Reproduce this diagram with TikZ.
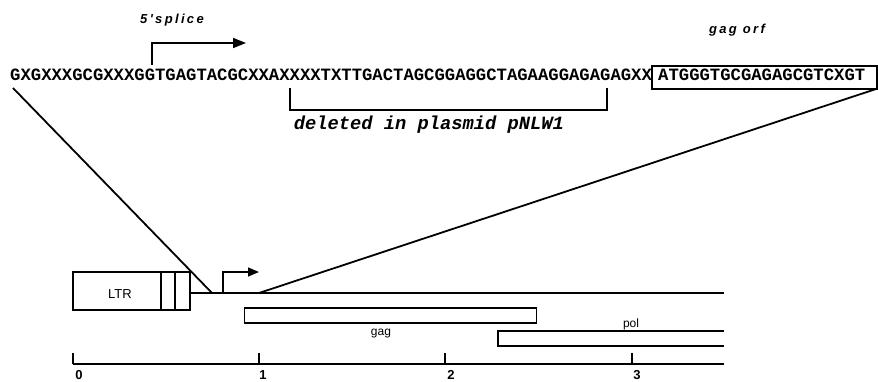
\documentclass[tikz,border=0pt]{standalone}
\usepackage{fontspec}
\setmainfont{Liberation Sans}
\newfontfamily\seqfont{Liberation Mono}
\newfontfamily\spacedsans{Liberation Sans}[LetterSpace=18]
\usetikzlibrary{arrows.meta}
\tikzset{
  seqtext/.style={anchor=base west, inner sep=0pt, font=\seqfont\bfseries\fontsize{17.25}{17.25}\selectfont},
  headlabel/.style={anchor=base, inner sep=0pt, font=\spacedsans\bfseries\itshape\fontsize{13}{13}\selectfont},
  boxlabel/.style={anchor=base, inner sep=0pt, font=\fontsize{12}{12}\selectfont},
  scalelabel/.style={anchor=base, inner sep=0pt, font=\bfseries\fontsize{13}{13}\selectfont},
  thick line/.style={line width=1.8pt},
  thin line/.style={line width=1.5pt},
  bigarrow/.style={-{Triangle[length=13pt,width=10pt]}, line width=1.5pt},
  smallarrow/.style={-{Triangle[length=11pt,width=9pt]}, line width=1.5pt}
}
\begin{document}
\begin{tikzpicture}[x=1pt,y=-1pt]
\useasboundingbox (0,0) rectangle (878,381);

% --- sequence ---
\node[seqtext] (seq) at (10,80) {GXGXXXGCGXXXGGTGAGTACGCXXAXXXXTXTTGACTAGCGGAGGCTAGAAGGAGAGAGXX};
\node[seqtext] (orf) at (658,80) {ATGGGTGCGAGAGCGTCXGT};
\draw[thin line] (652,66) rectangle (877,89);

% labels
\node[headlabel] (splice) at (172,23) {5'splice};
\node[headlabel] (gagorf) at (737,33) {gag\hspace{6pt}orf};

% splice arrow
\coordinate (spA) at (152,65);
\coordinate (spB) at (152,43);
\coordinate (spC) at (246,43);
\draw[bigarrow] (spA) -- (spB) -- (spC);

% deleted bracket
\coordinate (dL) at (290,88);
\coordinate (dR) at (607,88);
\draw[thick line] (dL) -- (290,110) -- (607,110) -- (dR);
\node[anchor=base, inner sep=0pt, font=\seqfont\bfseries\itshape\fontsize{18.75}{18.75}\selectfont] (del) at (429,129) {deleted in plasmid pNLW1};

% --- map ---
\coordinate (lineStart) at (190,293);
\coordinate (lineEnd) at (724,293);
\coordinate (joinL) at (212,293);
\coordinate (joinR) at (259,293);
\coordinate (seqL) at (13,88);
\coordinate (seqR) at (876,89);
\draw[thick line] (seqL) -- (joinL);
\draw[thick line] (seqR) -- (joinR);
\draw[thick line] (lineStart) -- (lineEnd);

% LTR box
\node[draw, thin line, minimum width=117pt, minimum height=38pt, inner sep=0pt] (ltr) at (131.5,291) {};
\node[boxlabel, font=\fontsize{13}{13}\selectfont] at (120,298) {LTR};
\draw[thin line] (161,272) -- (161,310);
\draw[thin line] (175,272) -- (175,310);

% promoter arrow
\coordinate (prA) at (223,293);
\coordinate (prB) at (223,272);
\coordinate (prC) at (259,272);
\draw[smallarrow] (prA) -- (prB) -- (prC);

% gag box
\node[draw, thin line, minimum width=292pt, minimum height=15pt, inner sep=0pt] (gag) at (390.5,315.5) {};
\node[boxlabel] at (381,335) {gag};

% pol box (open on the right)
\draw[thin line] (724,331) -- (498,331) -- (498,346) -- (724,346);
\node[boxlabel] at (631,327) {pol};

% scale bar
\draw[thick line] (73,364) -- (724,364);
\foreach \x/\lab/\lx in {73/0/79, 259/1/263, 445/2/451, 632/3/637}{
  \draw[thick line] (\x,364) -- (\x,353);
  \node[scalelabel] at (\lx,379) {\lab};
}
\end{tikzpicture}
\end{document}
